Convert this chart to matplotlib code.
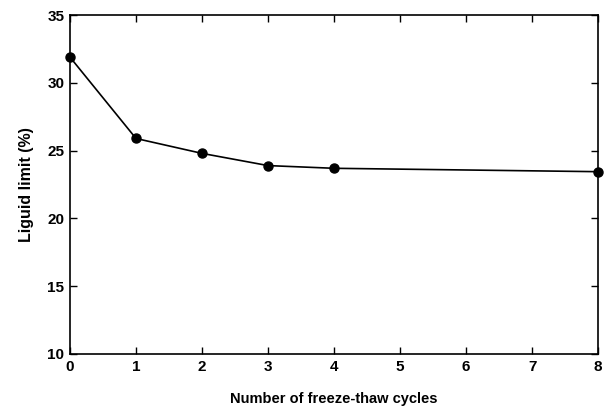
import matplotlib
matplotlib.use("Agg")
import matplotlib.pyplot as plt

# freeze-thaw cycles vs liquid limit
cycles = [0, 1, 2, 3, 4, 8]
liquid_limit = [31.9, 25.9, 24.8, 23.9, 23.7, 23.45]
xticks = [0, 1, 2, 3, 4, 5, 6, 7, 8]
yticks = [10, 15, 20, 25, 30, 35]

plt.rcParams["font.family"] = ["Liberation Sans", "DejaVu Sans"]
plt.rcParams["font.weight"] = "bold"

fig = plt.figure(figsize=(6.06, 4.09), dpi=100)
ax = fig.add_axes([0.1155, 0.1345, 0.8715, 0.8285])

ax.plot(cycles, liquid_limit, color="black", lw=1.2, marker="o",
        markersize=6.5, markerfacecolor="black", clip_on=False, zorder=3)

ax.set_xlim(0, 8)
ax.set_ylim(10, 35)
ax.set_xticks(xticks)
ax.set_yticks(yticks)
ax.tick_params(direction="in", top=True, right=True, length=5, width=1,
               labelsize=11, pad=4)
for lab in ax.get_xticklabels() + ax.get_yticklabels():
    lab.set_fontweight("bold")
for s in ax.spines.values():
    s.set_linewidth(1.2)

ax.set_xlabel("Number of freeze-thaw cycles", fontsize=10.5, fontweight="bold", labelpad=13)
ax.set_ylabel("Liguid limit (%)", fontsize=11.5, fontweight="bold", labelpad=10)

fig.savefig("out.png", dpi=100)
